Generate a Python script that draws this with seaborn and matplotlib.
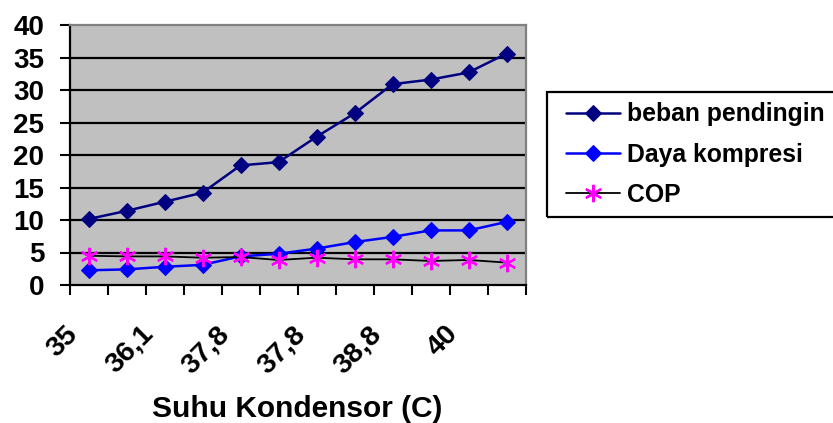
import matplotlib
matplotlib.use("Agg")
import matplotlib.pyplot as plt
import matplotlib.transforms as mtrans
from matplotlib.patches import Rectangle
import seaborn as sns
import numpy as np

categories = ["35", "35,5", "36,1", "36,8", "37,8", "37,8", "37,8", "38,2", "38,8", "39,5", "40", "40,5"]
beban_pendingin = [10.15, 11.4, 12.8, 14.2, 18.4, 18.9, 22.8, 26.4, 30.9, 31.6, 32.7, 35.6]
daya_kompresi = [2.26, 2.4, 2.8, 3.1, 4.4, 4.8, 5.6, 6.6, 7.4, 8.4, 8.4, 9.7]
cop = [4.5, 4.4, 4.4, 4.2, 4.3, 3.85, 4.2, 3.95, 3.95, 3.7, 3.85, 3.45]
y_ticks = [0, 5, 10, 15, 20, 25, 30, 35, 40]

sns.set_style("white")
plt.rcParams["font.family"] = ["Liberation Sans", "DejaVu Sans"]
plt.rcParams["font.weight"] = "bold"
plt.rcParams["text.color"] = "black"
plt.rcParams["axes.labelcolor"] = "black"
plt.rcParams["xtick.color"] = "black"
plt.rcParams["ytick.color"] = "black"

W, H = 833, 423
fig = plt.figure(figsize=(W / 100, H / 100), dpi=100)
ax = fig.add_axes([69.5 / W, 1 - 285 / H, 456 / W, 260 / H])
ax.set_facecolor("#c0c0c0")

idx = np.arange(len(categories))
for v in y_ticks[1:-1]:
    ax.axhline(v, color="black", lw=1.6, zorder=1)

sns.lineplot(x=idx, y=beban_pendingin, ax=ax, color="#000080", lw=1.8, marker="D",
             markersize=8, markeredgecolor="#000080", label="beban pendingin", zorder=3)
sns.lineplot(x=idx, y=daya_kompresi, ax=ax, color="#0000ff", lw=1.8, marker="D",
             markersize=8.5, markeredgecolor="#0000ff", label="Daya kompresi", zorder=3)
sns.lineplot(x=idx, y=cop, ax=ax, color="black", lw=1.3, marker=(6, 2, 0),
             markersize=12.5, markeredgecolor="#ff00ff", markeredgewidth=1.6,
             label="COP", zorder=4)

ax.set_xlim(-0.5, len(categories) - 0.5)
ax.set_ylim(0, 40)
ax.set_yticks(y_ticks)
ax.set_yticklabels([str(v) for v in y_ticks], fontsize=20, fontweight="bold")
ax.tick_params(axis="y", direction="out", length=7.2, width=1.5, pad=11, left=True)

ax.set_xticks(np.arange(len(categories) + 1) - 0.5)
ax.set_xticklabels([])
ax.tick_params(axis="x", which="major", direction="out", length=7.2, width=1.5, bottom=True)
ax.set_xticks(idx[::2], minor=True)
ax.set_xticklabels([categories[i] for i in idx[::2]], minor=True, rotation=45,
                   ha="right", va="center", rotation_mode="anchor",
                   fontsize=20.5, fontweight="bold")
ax.tick_params(axis="x", which="minor", length=0, pad=32.5)
offset = mtrans.ScaledTranslation(-15 / 100, 0, fig.dpi_scale_trans)
for lab in ax.get_xticklabels(minor=True):
    lab.set_transform(lab.get_transform() + offset)

ax.set_xlabel("")
ax.set_ylabel("")
fig.text(297.5 / W, 1 - 417 / H, "Suhu Kondensor (C)", fontsize=21.5, fontweight="bold",
         ha="center", va="baseline")

for s in ["left", "bottom"]:
    ax.spines[s].set_color("black")
    ax.spines[s].set_linewidth(1.6)
for s in ["top", "right"]:
    ax.spines[s].set_color("#808080")
    ax.spines[s].set_linewidth(1.6)

handles, labels = ax.get_legend_handles_labels()
ax.legend_.remove()
fig.patches.append(Rectangle((547 / W, 1 - 217 / H), 300 / W, 125 / H,
                             transform=fig.transFigure, fill=False, edgecolor="black",
                             linewidth=1.6, clip_on=False))
leg = fig.legend(handles, labels, loc="upper left", bbox_to_anchor=(566 / W, 1 - 102.5 / H),
                 prop={"family": "Liberation Sans", "weight": "bold", "size": 17.8},
                 frameon=False, handlelength=2.2, handletextpad=0.28,
                 labelspacing=0.66, borderpad=0, borderaxespad=0)

fig.savefig("out.png", dpi=100)
